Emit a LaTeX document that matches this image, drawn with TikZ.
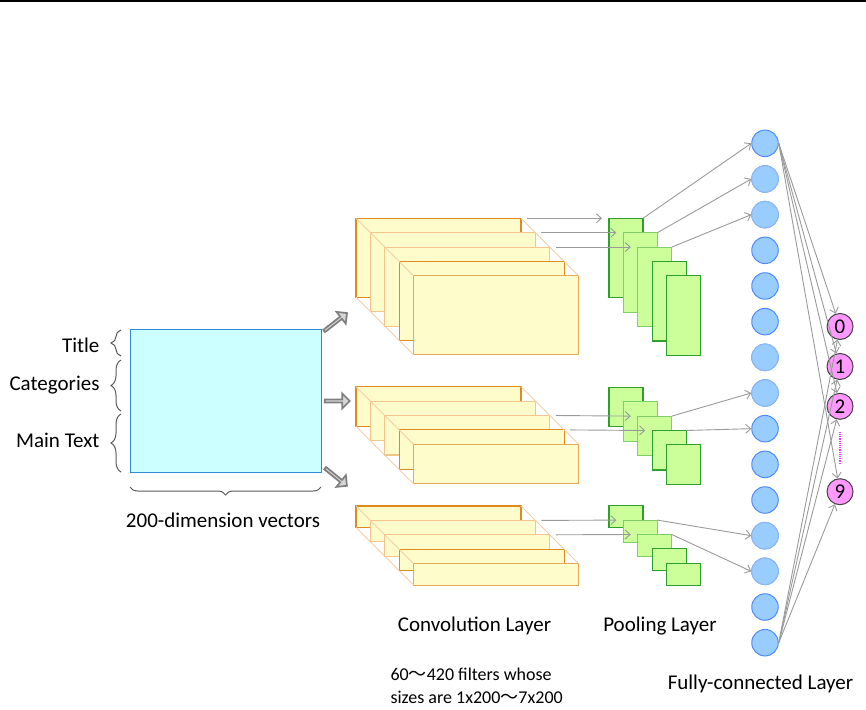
\documentclass[tikz,border=0pt]{standalone}
\usepackage{fontspec}
\setmainfont{Carlito}
\newfontfamily\cjk{Noto Sans CJK SC}
\usetikzlibrary{arrows.meta,decorations.pathreplacing,shapes.arrows,calc}

\definecolor{inputfill}{HTML}{CCFFFF}
\definecolor{inputline}{HTML}{2E8BD8}
\definecolor{convfill}{HTML}{FFFCCB}
\definecolor{convdark}{HTML}{E08A1E}
\definecolor{convlight}{HTML}{F3C58A}
\definecolor{convmid}{HTML}{EAAA55}
\definecolor{convdiag}{HTML}{F5CDA5}
\definecolor{poolfill}{HTML}{CCFF99}
\definecolor{pooldark}{HTML}{2EA02E}
\definecolor{poollight}{HTML}{80D06A}
\definecolor{fcfill}{HTML}{99CCFF}
\definecolor{fcline}{HTML}{4F8BFF}
\definecolor{fclight}{HTML}{8DB8F5}
\definecolor{outfill}{HTML}{FF99FF}
\definecolor{outdots}{HTML}{FF33FF}
\definecolor{linkgray}{HTML}{9A9A9A}
\definecolor{bracegray}{HTML}{5A5A5A}
\definecolor{blockline}{HTML}{7F7F7F}
\definecolor{blockfill}{HTML}{D6D6D6}

\begin{document}
\begin{tikzpicture}[x=1pt,y=-1pt,
  font=\fontsize{21}{25}\selectfont,
  smalltext/.style={font=\fontsize{18}{22}\selectfont},
  inputbox/.style={draw=inputline, fill=inputfill, line width=1pt, inner sep=0pt, outer sep=0pt},
  convbox/.style={fill=convfill, line width=1.1pt, minimum width=165pt, inner sep=0pt, outer sep=0pt, anchor=north west},
  poolbox/.style={fill=poolfill, line width=1.1pt, minimum width=34pt, inner sep=0pt, outer sep=0pt, anchor=north west},
  neuron/.style={circle, draw=fcline, fill=fcfill, line width=1pt, minimum size=26.5pt, inner sep=0pt},
  outnode/.style={circle, draw=black!75, fill=outfill, line width=1pt, minimum size=26pt, inner sep=0pt, font=\fontsize{21}{21}\selectfont},
  link/.style={draw=linkgray, line width=0.9pt, -{Straight Barb[length=5pt,width=9pt]}},
  diag/.style={draw=convdiag, line width=0.8pt},
  sidebrace/.style={draw=bracegray, line width=1pt, decorate, decoration={brace, amplitude=10pt}},
  bottombrace/.style={draw=bracegray, line width=1pt, decorate, decoration={brace, amplitude=8pt}},
  blockarrow/.style={single arrow, draw=blockline, fill=blockfill, line width=1.7pt, inner sep=0pt,
    minimum width=15pt, single arrow head extend=3.5pt, single arrow tip angle=90}
]
\useasboundingbox (0,0) rectangle (866,709);

% rule along the top edge
\draw[line width=2pt] (0,1) -- (866,1);

% input matrix with its labels
\node[inputbox, anchor=north west, minimum width=191pt, minimum height=143pt] (input) at (130,329) {};
\draw[sidebrace] (121,356) -- (121,330);
\draw[sidebrace] (121,411) -- (121,360);
\draw[sidebrace] (121,472) -- (121,414);
\draw[bottombrace] (321,487) -- (130,487);
\node[anchor=east] (ltitle) at (103,345) {Title};
\node[anchor=east] (lcat) at (103,385) {Categories};
\node[anchor=east] (lmain) at (103,440) {Main Text};
\node (lvec) at (223,520) {200-dimension vectors};

% block arrows into the three filter groups
\node[blockarrow, minimum height=29pt, rotate=38] (ba1) at (335,322.5) {};
\node[blockarrow, minimum height=25pt] (ba2) at (336.5,401) {};
\node[blockarrow, minimum height=28pt, rotate=-39] (ba3) at (335.5,476.5) {};

% convolution stacks (s = stack, top y, box height) and pooling stacks
\foreach \s/\ty/\h/\py/\ph in {1/218.3/79/218.3/79.5, 2/386.7/39.5/387.3/39.5, 3/506/21.5/505.7/22} {
  \foreach \k/\cc in {1/convdark, 2/convlight, 3/convlight, 4/convdark, 5/convmid} {
    \node[convbox, draw=\cc, minimum height=\h pt] (c\s\k) at ({356+14.4*(\k-1)},{\ty+14.4*(\k-1)}) {};
  }
  \draw[diag] (c\s1.north west) -- (c\s5.north west);
  \draw[diag] (c\s1.north east) -- (c\s5.north east);
  \draw[diag] (c\s1.south west) -- (c\s5.south west);
  \foreach \k/\pc in {1/pooldark, 2/poollight, 3/poollight, 4/pooldark, 5/pooldark} {
    \node[poolbox, draw=\pc, minimum height=\ph pt] (p\s\k) at ({609+14.4*(\k-1)},{\py+14.4*(\k-1)}) {};
  }
}

% convolution to pooling
\foreach \s/\k in {1/1, 1/2, 1/3, 2/3, 2/4, 3/2, 3/3} {
  \draw[link] ([xshift=6pt]c\s\k.north east) -- ([xshift=-7pt]p\s\k.north west);
}

% fully-connected layer
\foreach \i in {1,...,15} {
  \node[neuron] (n\i) at (765,{143.3+35.67*(\i-1)}) {};
}
\foreach \i in {2,3,7,8,12,13} {
  \node[neuron, draw=fclight] at (n\i) {};
}

% pooling to fully-connected
\draw[link] (p11.north east) -- (n1.west);
\draw[link] (p12.north east) -- (n2.west);
\draw[link] (p13.north east) -- (n3.west);
\draw[link] (p23.north east) -- (n8.west);
\draw[link] (p24.north east) -- (n9.west);
\draw[link] (p32.north east) -- (n12.west);
\draw[link] (p33.north east) -- (n13.west);

% output classes
\node[outnode] (o0) at (840,326.5) {0};
\node[outnode] (o1) at (840,366.5) {1};
\node[outnode] (o2) at (840,406.3) {2};
\node[outnode] (o9) at (840,491.7) {9};
\draw[outdots, densely dotted, line width=1.2pt, shorten <=12pt, shorten >=14pt] (o2.south) -- (o9.north);

\foreach \o in {o0,o1,o2,o9} {
  \draw[link] (n1.east) -- (\o);
  \draw[link] (n15.east) -- (\o);
}

% captions
\node (lconv) at (474.5,626) {Convolution Layer};
\node (lpool) at (660,626) {Pooling Layer};
\node (lfc) at (760.5,684) {Fully-connected Layer};
\node[smalltext, anchor=west] (lf1) at (387,674) {60{\cjk ～}420 filters whose};
\node[smalltext, anchor=west] (lf2) at (387,697) {sizes are 1x200{\cjk ～}7x200};
\end{tikzpicture}
\end{document}
